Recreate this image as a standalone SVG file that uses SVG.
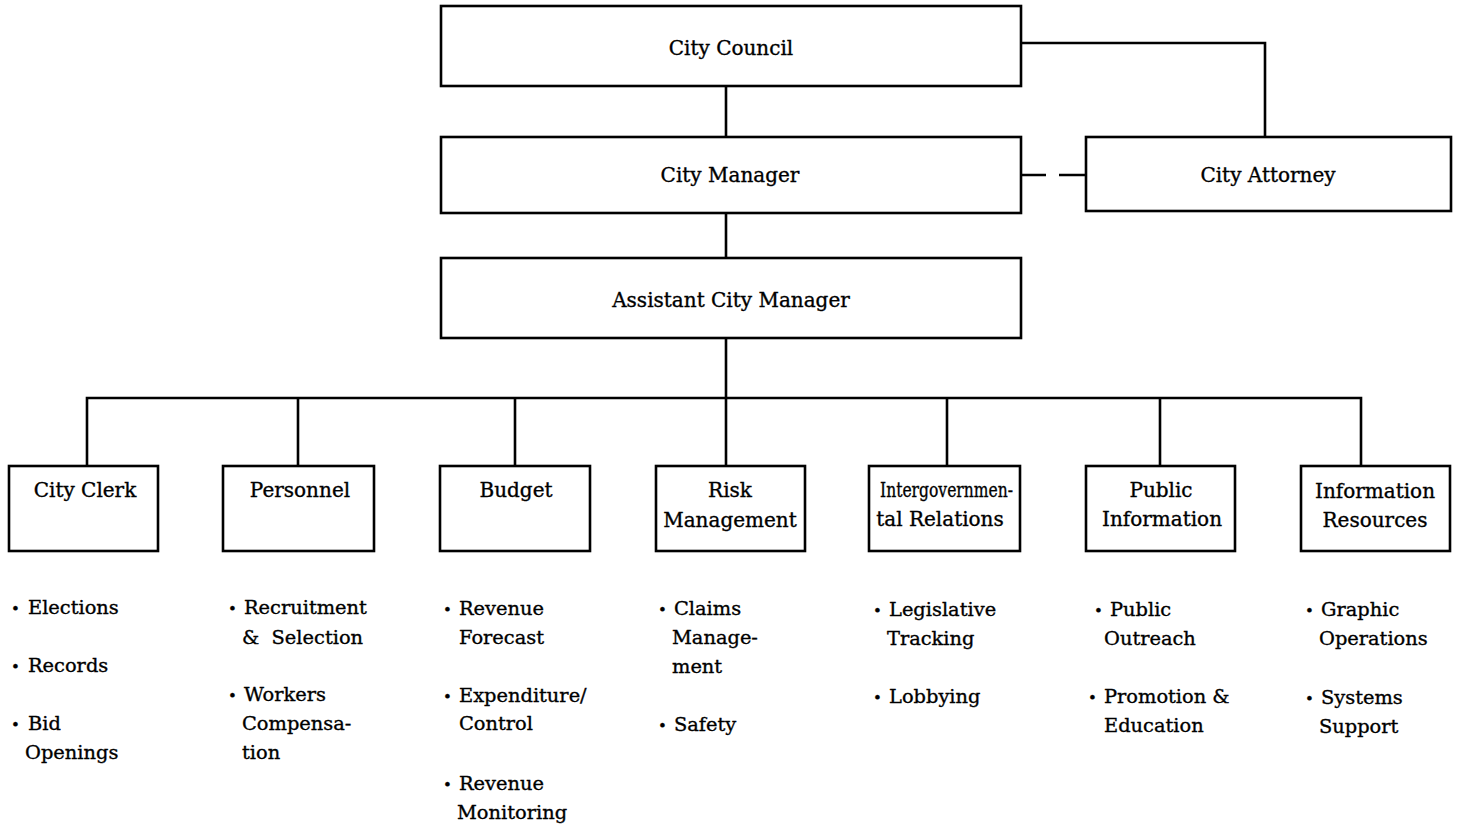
<svg xmlns="http://www.w3.org/2000/svg" width="1459" height="827" viewBox="0 0 1459 827">
<style>
.box{fill:#fff;stroke:#000;stroke-width:2.6}
.ln{fill:none;stroke:#000;stroke-width:2.6}
text{font-family:"DejaVu Serif","Liberation Serif",serif;font-size:20px;fill:#000;stroke:#000;stroke-width:0.35}
.c{text-anchor:middle}
.l{font-size:19.4px}
.d{font-size:15px}
</style>
<rect width="1459" height="827" fill="#fff"/>
<g id="connectors">
<path class="ln" d="M726 86V137M726 213V258M726 338V466"/>
<path class="ln" d="M1021 43H1265V137"/>
<path class="ln" d="M1021 175H1046M1059 175H1086"/>
<path class="ln" d="M87 466V398H1361V466M298 398V466M515 398V466M947 398V466M1160 398V466"/>
</g>
<g id="city-council"><rect class="box" x="441" y="6" width="580" height="80"/><text class="c" x="731" y="55">City Council</text></g>
<g id="city-manager"><rect class="box" x="441" y="137" width="580" height="76"/><text class="c" x="730" y="182">City Manager</text></g>
<g id="city-attorney"><rect class="box" x="1086" y="137" width="365" height="74"/><text class="c" x="1268" y="182">City Attorney</text></g>
<g id="assistant-city-manager"><rect class="box" x="441" y="258" width="580" height="80"/><text class="c" x="731" y="307">Assistant City Manager</text></g>

<g id="city-clerk"><rect class="box" x="9" y="466" width="149" height="85"/><text class="c" x="85" y="497">City Clerk</text>
<text class="l" x="28" y="614"><tspan class="d" x="11">•</tspan><tspan x="28">Elections</tspan></text>
<text class="l" x="28" y="672"><tspan class="d" x="11">•</tspan><tspan x="28">Records</tspan></text>
<text class="l" x="28" y="730"><tspan class="d" x="11">•</tspan><tspan x="28">Bid</tspan></text>
<text class="l" x="25" y="759">Openings</text></g>

<g id="personnel"><rect class="box" x="223" y="466" width="151" height="85"/><text class="c" x="300" y="497">Personnel</text>
<text class="l" x="244" y="614"><tspan class="d" x="228">•</tspan><tspan x="244">Recruitment</tspan></text>
<text class="l" x="242" y="644" xml:space="preserve">&amp;  Selection</text>
<text class="l" x="244" y="701"><tspan class="d" x="228">•</tspan><tspan x="244">Workers</tspan></text>
<text class="l" x="242" y="730">Compensa-</text>
<text class="l" x="242" y="759">tion</text></g>

<g id="budget"><rect class="box" x="440" y="466" width="150" height="85"/><text class="c" x="516" y="497">Budget</text>
<text class="l" x="459" y="615"><tspan class="d" x="443">•</tspan><tspan x="459">Revenue</tspan></text>
<text class="l" x="459" y="644">Forecast</text>
<text class="l" x="459" y="702"><tspan class="d" x="443">•</tspan><tspan x="459">Expenditure/</tspan></text>
<text class="l" x="459" y="730">Control</text>
<text class="l" x="459" y="790"><tspan class="d" x="443">•</tspan><tspan x="459">Revenue</tspan></text>
<text class="l" x="457" y="819">Monitoring</text></g>

<g id="risk-management"><rect class="box" x="656" y="466" width="149" height="85"/><text class="c" x="730" y="497">Risk</text><text class="c" x="730" y="527">Management</text>
<text class="l" x="674" y="615"><tspan class="d" x="658">•</tspan><tspan x="674">Claims</tspan></text>
<text class="l" x="672" y="644">Manage-</text>
<text class="l" x="672" y="673">ment</text>
<text class="l" x="674" y="731"><tspan class="d" x="658">•</tspan><tspan x="674">Safety</tspan></text></g>

<g id="intergovernmental-relations"><rect class="box" x="869" y="466" width="151" height="85"/><text x="880" y="497" textLength="133" lengthAdjust="spacingAndGlyphs">Intergovernmen-</text><text class="c" x="940" y="526">tal Relations</text>
<text class="l" x="889" y="616"><tspan class="d" x="873">•</tspan><tspan x="889">Legislative</tspan></text>
<text class="l" x="887" y="645">Tracking</text>
<text class="l" x="889" y="703"><tspan class="d" x="873">•</tspan><tspan x="889">Lobbying</tspan></text></g>

<g id="public-information"><rect class="box" x="1086" y="466" width="149" height="85"/><text class="c" x="1161" y="497">Public</text><text class="c" x="1162" y="526">Information</text>
<text class="l" x="1110" y="616"><tspan class="d" x="1094">•</tspan><tspan x="1110">Public</tspan></text>
<text class="l" x="1104" y="645">Outreach</text>
<text class="l" x="1104" y="703"><tspan class="d" x="1088">•</tspan><tspan x="1104">Promotion &amp;</tspan></text>
<text class="l" x="1104" y="732">Education</text></g>

<g id="information-resources"><rect class="box" x="1301" y="466" width="149" height="85"/><text class="c" x="1375" y="498">Information</text><text class="c" x="1375" y="527">Resources</text>
<text class="l" x="1321" y="616"><tspan class="d" x="1305">•</tspan><tspan x="1321">Graphic</tspan></text>
<text class="l" x="1319" y="645">Operations</text>
<text class="l" x="1321" y="704"><tspan class="d" x="1305">•</tspan><tspan x="1321">Systems</tspan></text>
<text class="l" x="1319" y="733">Support</text></g>
</svg>
